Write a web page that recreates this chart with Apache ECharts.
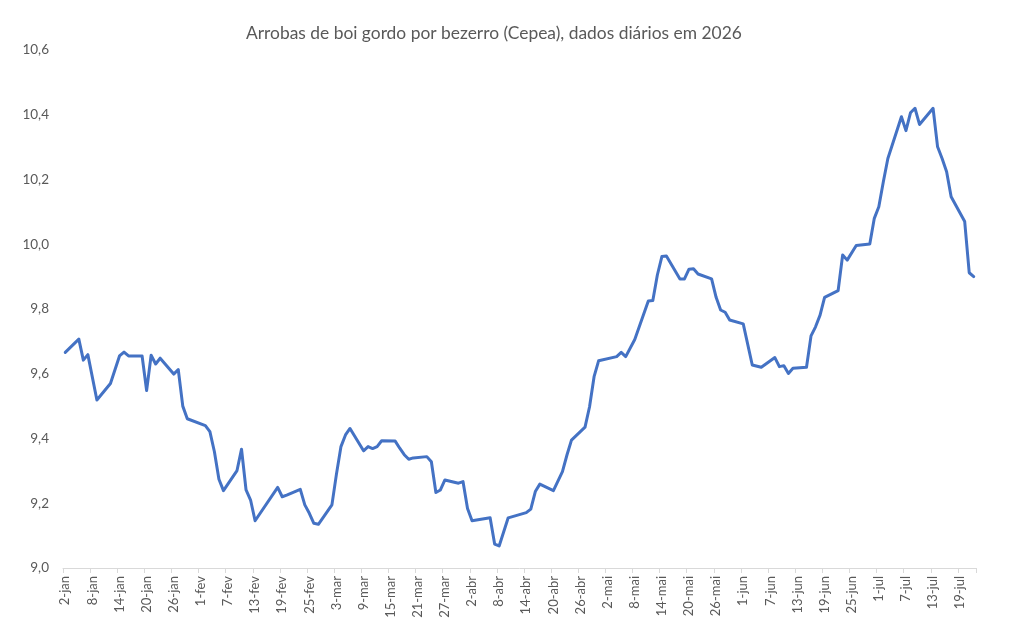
<!DOCTYPE html>
<html>
<head>
<meta charset="utf-8">
<script src="https://cdn.jsdelivr.net/npm/echarts@6/dist/echarts.min.js"></script>
<style>
html,body{margin:0;padding:0;background:#fff;}
#chart{width:1011px;height:630px;}
</style>
</head>
<body>
<div id="chart"></div>
<script>
// Axis domain (calendar days shown on the date axis)
const axisStart = '2026-01-02';
const axisEnd = '2026-07-22';
const monthNames = ['jan','fev','mar','abr','mai','jun','jul','ago','set','out','nov','dez'];

const dates = [
 '2026-01-02','2026-01-05','2026-01-06','2026-01-07','2026-01-09','2026-01-12','2026-01-14','2026-01-15','2026-01-16',
 '2026-01-19','2026-01-20','2026-01-21','2026-01-22','2026-01-23','2026-01-26','2026-01-27','2026-01-28','2026-01-29',
 '2026-02-02','2026-02-03','2026-02-04','2026-02-05','2026-02-06','2026-02-09','2026-02-10','2026-02-11','2026-02-12','2026-02-13',
 '2026-02-18','2026-02-19','2026-02-20','2026-02-23','2026-02-24','2026-02-25','2026-02-26','2026-02-27',
 '2026-03-02','2026-03-03','2026-03-04','2026-03-05','2026-03-06','2026-03-09','2026-03-10','2026-03-11','2026-03-12','2026-03-13',
 '2026-03-16','2026-03-17','2026-03-18','2026-03-19','2026-03-20','2026-03-23','2026-03-24','2026-03-25','2026-03-26','2026-03-27',
 '2026-03-30','2026-03-31','2026-04-01','2026-04-02','2026-04-06','2026-04-07','2026-04-08','2026-04-10',
 '2026-04-14','2026-04-15','2026-04-16','2026-04-17','2026-04-20','2026-04-22','2026-04-23','2026-04-24',
 '2026-04-27','2026-04-28','2026-04-29','2026-04-30','2026-05-04','2026-05-05','2026-05-06','2026-05-08',
 '2026-05-11','2026-05-12','2026-05-13','2026-05-14','2026-05-15','2026-05-18','2026-05-19','2026-05-20','2026-05-21','2026-05-22',
 '2026-05-25','2026-05-26','2026-05-27','2026-05-28','2026-05-29','2026-06-01','2026-06-03','2026-06-05',
 '2026-06-08','2026-06-09','2026-06-10','2026-06-11','2026-06-12','2026-06-15','2026-06-16','2026-06-17','2026-06-18','2026-06-19',
 '2026-06-22','2026-06-23','2026-06-24','2026-06-26','2026-06-29','2026-06-30','2026-07-01','2026-07-02','2026-07-03',
 '2026-07-06','2026-07-07','2026-07-08','2026-07-09','2026-07-10','2026-07-13','2026-07-14','2026-07-15','2026-07-16','2026-07-17',
 '2026-07-20','2026-07-21','2026-07-22'
];

// Arrobas de boi gordo por bezerro
const values = [
 9.666,9.707,9.642,9.659,9.519,9.570,9.655,9.667,9.655,
 9.655,9.548,9.657,9.630,9.648,9.599,9.613,9.500,9.461,
 9.440,9.421,9.359,9.274,9.239,9.301,9.367,9.241,9.210,9.146,
 9.249,9.220,9.225,9.243,9.195,9.169,9.138,9.135,
 9.195,9.290,9.375,9.411,9.431,9.362,9.375,9.369,9.375,9.393,
 9.392,9.370,9.350,9.336,9.340,9.344,9.328,9.233,9.241,9.272,
 9.262,9.267,9.184,9.146,9.155,9.074,9.068,9.155,
 9.171,9.182,9.236,9.259,9.239,9.298,9.349,9.395,
 9.435,9.498,9.591,9.640,9.653,9.666,9.653,9.706,
 9.825,9.826,9.905,9.962,9.964,9.893,9.893,9.923,9.924,9.908,
 9.893,9.836,9.797,9.790,9.766,9.754,9.627,9.620,
 9.650,9.622,9.625,9.601,9.617,9.620,9.717,9.745,9.781,9.836,
 9.857,9.967,9.951,9.996,10.001,10.080,10.116,10.193,10.265,
 10.394,10.351,10.406,10.420,10.370,10.420,10.301,10.265,10.224,10.147,
 10.070,9.912,9.900
];

const yTicks = [9.0, 9.2, 9.4, 9.6, 9.8, 10.0, 10.2, 10.4, 10.6];

// Build the category axis (every calendar day) and align the series to it
const categories = [];
const labels = [];
{
  const t0 = Date.parse(axisStart + 'T00:00:00Z');
  const t1 = Date.parse(axisEnd + 'T00:00:00Z');
  for (let t = t0; t <= t1; t += 86400000) {
    const d = new Date(t);
    categories.push(d.toISOString().slice(0,10));
    labels.push(d.getUTCDate() + '-' + monthNames[d.getUTCMonth()]);
  }
}
const lookup = {};
dates.forEach((d, i) => { lookup[d] = values[i]; });
const seriesData = categories.map(c => (c in lookup ? lookup[c] : null));

const chart = echarts.init(document.getElementById('chart'), null, {renderer: 'canvas'});
chart.setOption({
  animation: false,
  backgroundColor: '#ffffff',
  title: {
    text: 'Arrobas de boi gordo por bezerro (Cepea), dados diários em 2026',
    left: 241,
    top: 20,
    textStyle: {fontFamily: 'Lato', fontSize: 17.4, fontWeight: 'normal', color: '#595959'}
  },
  grid: {left: 63, right: 35, top: 50, bottom: 62},
  xAxis: {
    type: 'category',
    data: labels,
    boundaryGap: true,
    axisLine: {show: true, lineStyle: {color: '#d9d9d9', width: 1}},
    axisTick: {show: true, interval: 5, length: 5, lineStyle: {color: '#d9d9d9'}},
    axisLabel: {interval: 5, rotate: 90, margin: 8, fontFamily: 'Lato', fontSize: 13, color: '#595959'},
    splitLine: {show: false}
  },
  yAxis: {
    type: 'value',
    min: yTicks[0],
    max: yTicks[yTicks.length - 1],
    interval: 0.2,
    axisLine: {show: false},
    axisTick: {show: false},
    splitLine: {show: false},
    axisLabel: {
      margin: 14,
      fontFamily: 'Lato', fontSize: 13.5, color: '#595959',
      formatter: v => v.toFixed(1).replace('.', ',')
    }
  },
  series: [{
    type: 'line',
    data: seriesData,
    connectNulls: true,
    showSymbol: false,
    symbol: 'none',
    lineStyle: {color: '#4472C4', width: 3, join: 'round', cap: 'round'},
    itemStyle: {color: '#4472C4'}
  }]
});
</script>
</body>
</html>
